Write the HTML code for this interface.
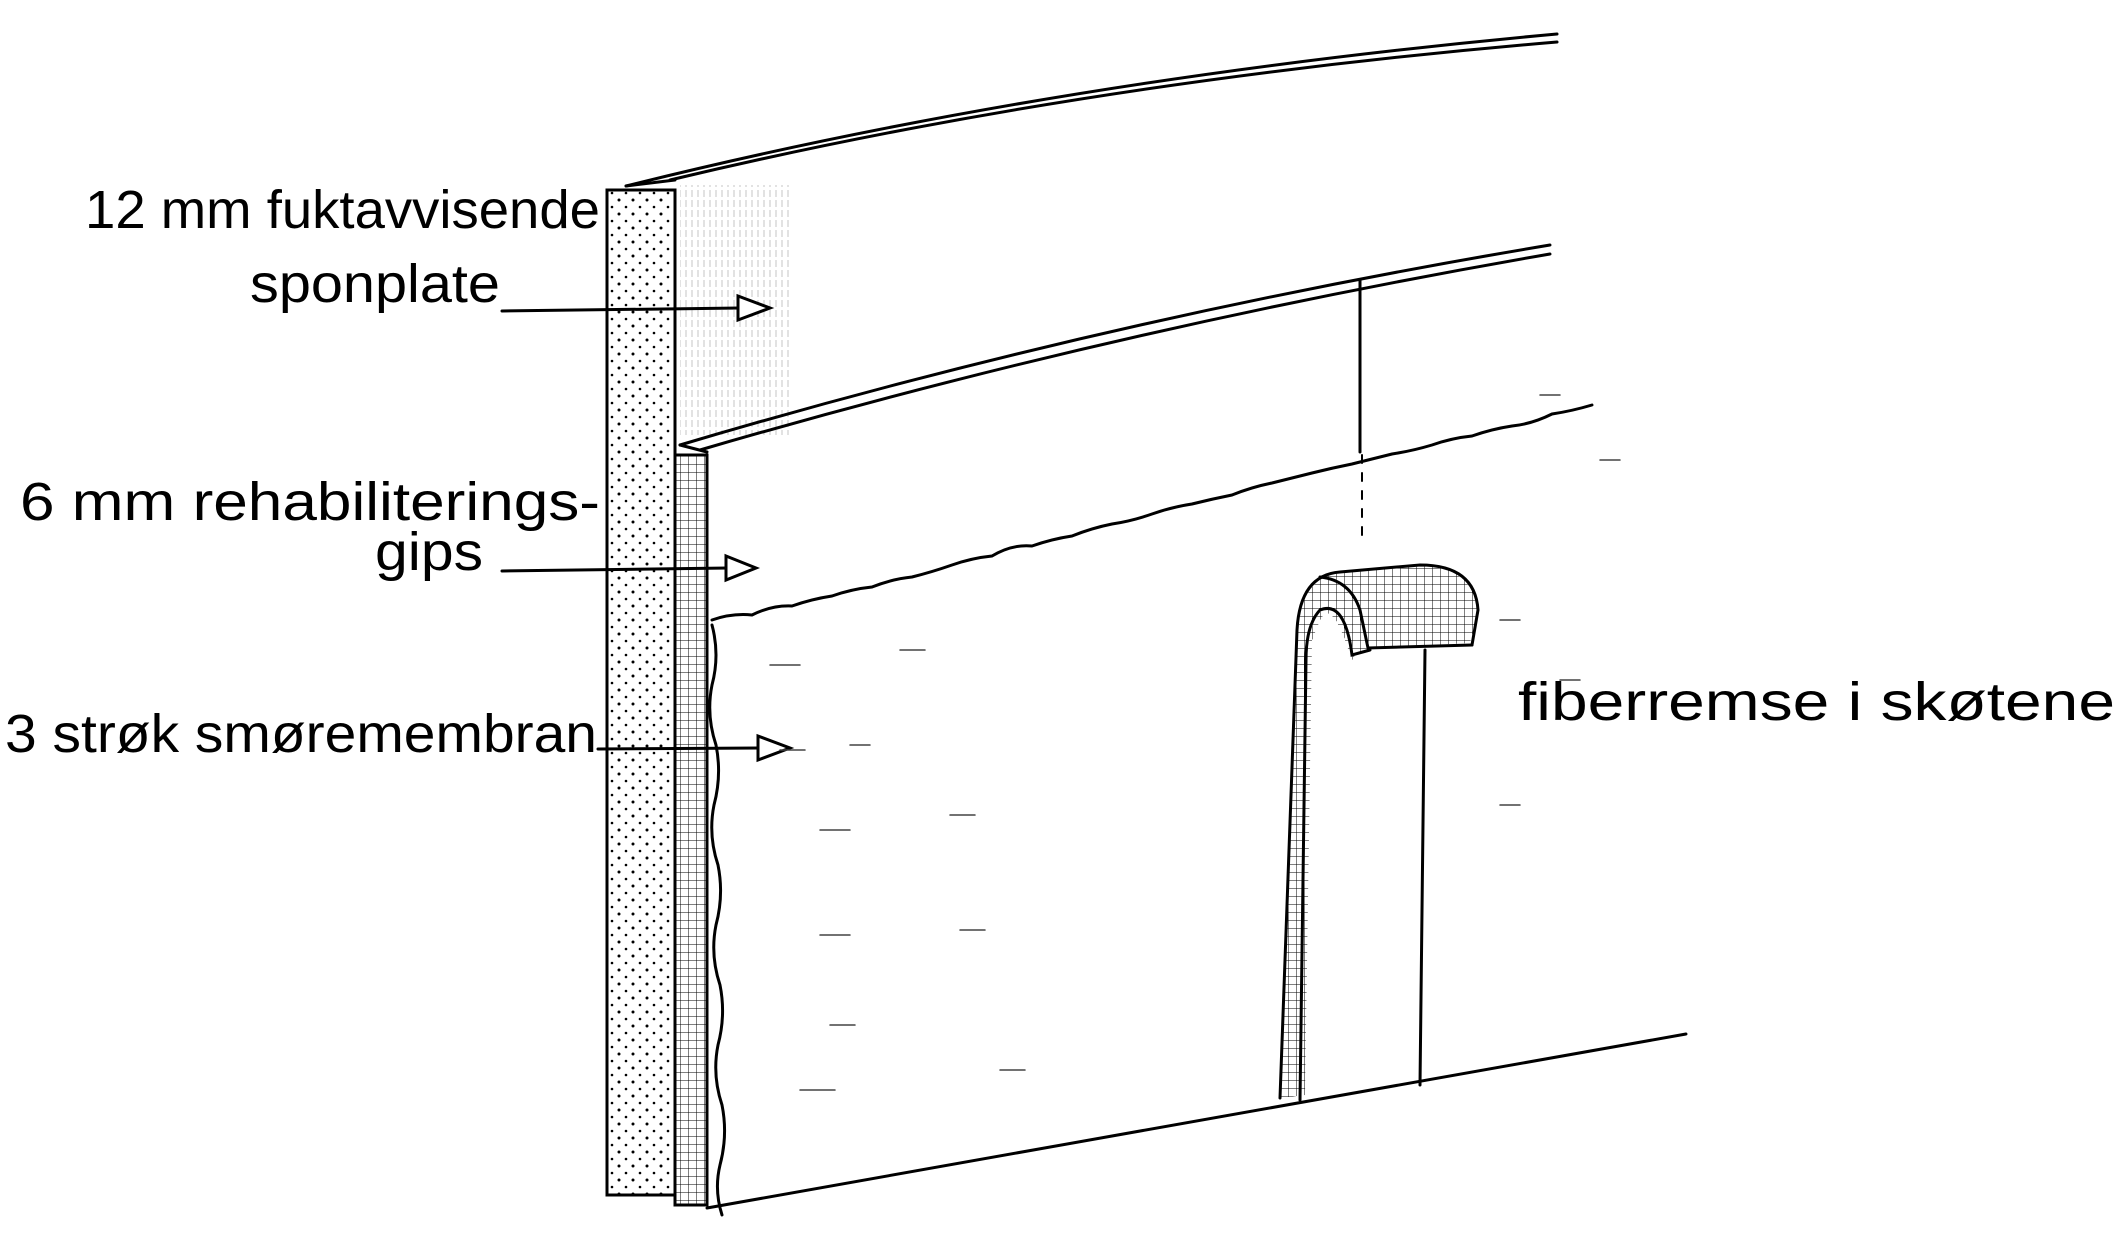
<!DOCTYPE html>
<html><head><meta charset="utf-8"><style>
html,body{margin:0;padding:0;background:#fff}
svg{display:block}
text{font-family:"Liberation Sans",sans-serif;font-size:54px;fill:#000}
</style></head><body>
<svg width="2124" height="1244" viewBox="0 0 2124 1244" xmlns="http://www.w3.org/2000/svg">
<defs>
<pattern id="dots" width="14" height="14" patternUnits="userSpaceOnUse">
<circle cx="3" cy="4" r="1.5" fill="#000"/><circle cx="10" cy="11" r="1.3" fill="#000"/>
</pattern>
<pattern id="hatch" width="8" height="8" patternUnits="userSpaceOnUse">
<path d="M0 0H8M0 0V8" stroke="#000" stroke-width="1"/>
</pattern>
<pattern id="vline" width="6" height="10" patternUnits="userSpaceOnUse">
<path d="M2 0V7" stroke="#555" stroke-width="1"/>
</pattern>
</defs>
<g fill="none" stroke="#000" stroke-width="3" stroke-linecap="round">
<path d="M626 186 Q1050 80 1557 34"/>
<path d="M670 180 Q1080 82 1557 42"/>
<rect x="680" y="185" width="110" height="250" fill="url(#vline)" stroke="none" opacity="0.35"/>
<rect x="607" y="190" width="68" height="1005" fill="url(#dots)"/>
<line x1="626" y1="186" x2="675" y2="180"/>
<rect x="675" y="455" width="32" height="750" fill="url(#hatch)"/>
<path d="M680 445 Q1100 320 1550 245"/>
<path d="M680 445 L707 452"/>
<path d="M700 450 Q1110 330 1550 254"/>
<path d="M712 620 q20 -7 40 -5 q20 -10 40 -9 q20 -7 40 -10 q20 -7 40 -9 q20 -8 40 -10 q20 -5 40 -12 q20 -7 40 -9 q20 -12 40 -10 q20 -7 40 -10 q20 -8 40 -12 q20 -3 40 -10 q20 -7 40 -10 q20 -5 40 -9 q20 -8 40 -12 q20 -5 40 -10 q20 -5 40 -9 q20 -5 40 -10 q20 -3 40 -9 q20 -7 40 -9 q20 -7 40 -10 q20 -2 40 -12 q20 -3 40 -9"/>
<path d="M712 625 q8 30 0 60 q-6 30 4 60 q6 30 -2 60 q-6 30 4 60 q6 30 -2 60 q-6 30 4 60 q6 30 -2 60 q-6 30 4 60 q6 30 -2 60 q-6 25 2 50"/>
<path d="M707 1208 Q1200 1120 1686 1034"/>
<line x1="1360" y1="280" x2="1360" y2="452"/>
<line x1="1362" y1="455" x2="1362" y2="545" stroke-dasharray="8 10" stroke-width="2"/>
<path d="M1280 1098 L1297 630 Q1300 575 1340 572 L1420 565 Q1475 565 1478 610 L1470 643 L1380 648 L1370 650 L1355 655 L1352 660 L1345 640 Q1330 600 1320 620 L1312 640 L1305 1095 Z" fill="url(#hatch)" stroke-width="0"/>
<path d="M1280 1098 L1297 630 Q1300 575 1340 572 L1420 565 Q1475 565 1478 610 L1472 645"/>
<path d="M1320 577 Q1350 580 1360 610 L1368 648 L1472 645"/>
<path d="M1370 650 L1352 655 Q1345 600 1320 610 Q1306 625 1306 660 L1300 1100"/>
<path d="M1425 650 L1420 1085"/>
<line x1="502" y1="311" x2="740" y2="308"/>
<path d="M738 296 L770 308 L738 320 Z" fill="#fff"/>
<line x1="502" y1="571" x2="728" y2="568"/>
<path d="M726 556 L756 568 L726 580 Z" fill="#fff"/>
<line x1="598" y1="749" x2="760" y2="748"/>
<path d="M758 736 L790 748 L758 760 Z" fill="#fff"/>
<g stroke-width="1.5" stroke="#444">
<path d="M770 665h30M900 650h25M780 750h25M850 745h20M820 830h30M950 815h25M820 935h30M960 930h25M830 1025h25M800 1090h35M1000 1070h25M1500 620h20M1560 680h20M1500 805h20M1600 460h20M1540 395h20"/>
</g>
</g>
<text x="85" y="228" textLength="515" lengthAdjust="spacingAndGlyphs">12 mm fuktavvisende</text>
<text x="250" y="302" textLength="250" lengthAdjust="spacingAndGlyphs">sponplate</text>
<text x="20" y="520" textLength="580" lengthAdjust="spacingAndGlyphs">6 mm rehabiliterings-</text>
<text x="375" y="570" textLength="108" lengthAdjust="spacingAndGlyphs">gips</text>
<text x="5" y="752" textLength="592" lengthAdjust="spacingAndGlyphs">3 strøk smøremembran</text>
<text x="1518" y="720" textLength="597" lengthAdjust="spacingAndGlyphs">fiberremse i skøtene</text>
</svg>
</body></html>
